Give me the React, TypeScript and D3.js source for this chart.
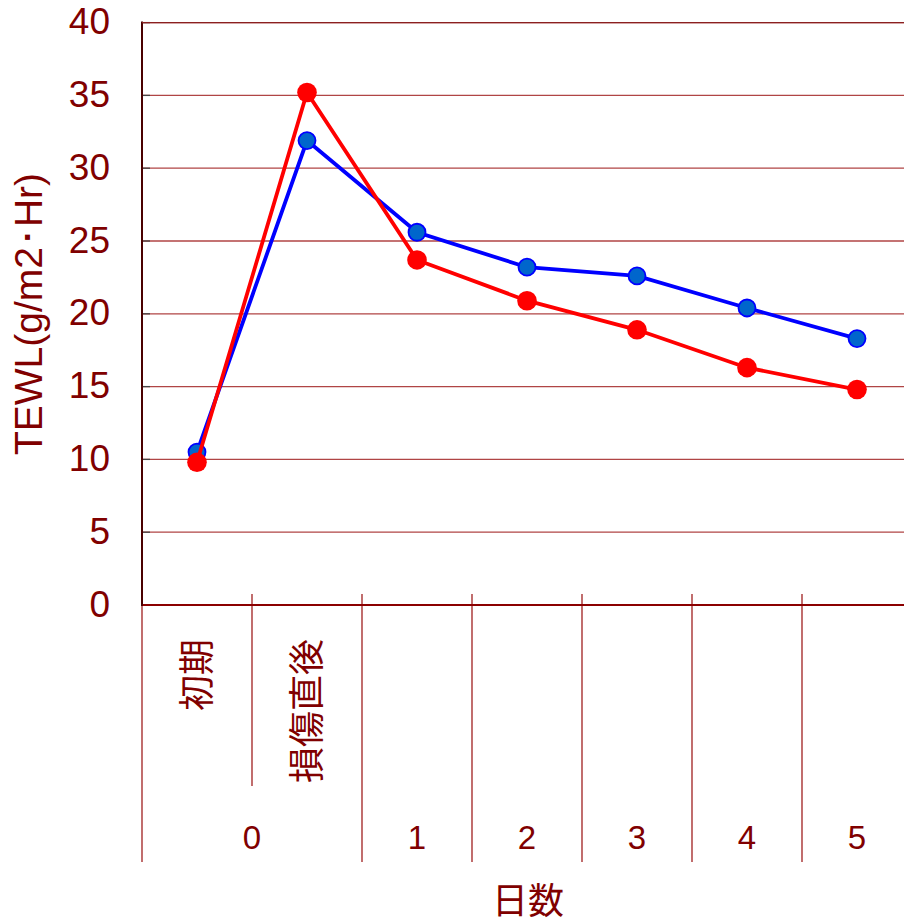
import React from "react";
import * as d3 from "d3";

const categories = ["初期", "損傷直後", "1", "2", "3", "4", "5"];
const subLabels = ["初期", "損傷直後", "", "", "", "", ""];
const dayLabels = ["0", "1", "2", "3", "4", "5"];
const daySpans = [2, 1, 1, 1, 1, 1];
const blueValues = [10.5, 31.9, 25.6, 23.2, 22.6, 20.4, 18.3];
const redValues = [9.8, 35.2, 23.7, 20.9, 18.9, 16.3, 14.8];
const yTicks = [0, 5, 10, 15, 20, 25, 30, 35, 40];
const yTitle = "TEWL(g/m2･Hr)";
const xTitle = "日数";

const W = 904;
const H = 923;
const left = 142;
const top = 22.6;
const bottom = 605;
const bandW = 110;

const textColor = "#800000";
const sans = "'Liberation Sans', Arial, sans-serif";
const cjk = "'Noto Sans CJK JP', 'Noto Sans', sans-serif";

export default function App() {
  const x = d3
    .scaleBand<string>()
    .domain(categories)
    .range([left, left + bandW * categories.length])
    .padding(0);
  const y = d3.scaleLinear().domain([0, 40]).range([bottom, top]);
  const cx = (c: string) => (x(c) as number) + x.bandwidth() / 2;

  const line = d3
    .line<number>()
    .x((_, i) => cx(categories[i]))
    .y((d) => y(d));

  const groupStarts: number[] = [];
  let acc = 0;
  daySpans.forEach((s) => {
    groupStarts.push(acc);
    acc += s;
  });

  return (
    <svg
      width={W}
      height={H}
      style={{ position: "absolute", left: 0, top: 0, background: "#fff" }}
    >
      {/* gridlines */}
      {yTicks
        .filter((t) => t > 0)
        .map((t) => (
          <line
            key={"g" + t}
            x1={left}
            x2={W}
            y1={y(t)}
            y2={y(t)}
            stroke="#b04545"
            strokeWidth={1.3}
          />
        ))}
      {/* y tick marks */}
      {yTicks.map((t) => (
        <line
          key={"t" + t}
          x1={left}
          x2={left + 8}
          y1={y(t)}
          y2={y(t)}
          stroke="#444"
          strokeWidth={1.3}
        />
      ))}
      {/* y tick labels */}
      {yTicks.map((t) => (
        <text
          key={"l" + t}
          x={110}
          y={y(t) + 11.5}
          textAnchor="end"
          fontFamily={sans}
          fontSize={37}
          fill={textColor}
        >
          {t}
        </text>
      ))}
      {/* y title */}
      <text
        transform={`translate(42, 314) rotate(-90)`}
        textAnchor="middle"
        fontFamily={sans}
        fontSize={39}
        fill={textColor}
      >
        {yTitle}
      </text>

      {/* category separators */}
      {categories.map((c, i) => {
        const xb = x(c) as number;
        const isGroupStart = groupStarts.includes(i);
        if (i === 0) {
          return (
            <line key={"s" + i} x1={xb} x2={xb} y1={bottom} y2={862} stroke="#a02020" strokeWidth={1.3} />
          );
        }
        return (
          <line
            key={"s" + i}
            x1={xb}
            x2={xb}
            y1={594}
            y2={isGroupStart ? 862 : 786}
            stroke="#a02020"
            strokeWidth={1.3}
          />
        );
      })}

      {/* sub labels (rotated) */}
      {subLabels.map((s, i) =>
        s ? (
          <text
            key={"sub" + i}
            transform={`translate(${cx(categories[i]) + 13}, 639) rotate(-90)`}
            textAnchor="end"
            fontFamily={cjk}
            fontSize={36}
            fill={textColor}
          >
            {s}
          </text>
        ) : null
      )}

      {/* day labels */}
      {dayLabels.map((d, gi) => {
        const start = x(categories[groupStarts[gi]]) as number;
        const end = start + daySpans[gi] * x.bandwidth();
        return (
          <text
            key={"d" + gi}
            x={(start + end) / 2}
            y={849}
            textAnchor="middle"
            fontFamily={sans}
            fontSize={33}
            fill={textColor}
          >
            {d}
          </text>
        );
      })}

      {/* x title */}
      <text
        x={528}
        y={914}
        textAnchor="middle"
        fontFamily={cjk}
        fontSize={36}
        fill={textColor}
      >
        {xTitle}
      </text>

      {/* axes */}
      <line x1={left} x2={W} y1={bottom} y2={bottom} stroke="#8b0000" strokeWidth={2.2} />
      <line x1={left} x2={left} y1={top - 1} y2={bottom + 1} stroke="#4a0000" strokeWidth={2} />
      <line x1={left} x2={W} y1={top} y2={top} stroke="#8b2020" strokeWidth={1.3} />

      {/* blue series */}
      <path d={line(blueValues) || ""} fill="none" stroke="#0000ff" strokeWidth={3.8} />
      {blueValues.map((v, i) => (
        <circle
          key={"b" + i}
          cx={cx(categories[i])}
          cy={y(v)}
          r={8.5}
          fill="#0066cc"
          stroke="#0000ff"
          strokeWidth={1.8}
        />
      ))}
      {/* red series */}
      <path d={line(redValues) || ""} fill="none" stroke="#ff0000" strokeWidth={3.8} />
      {redValues.map((v, i) => (
        <circle key={"r" + i} cx={cx(categories[i])} cy={y(v)} r={9.8} fill="#ff0000" />
      ))}
    </svg>
  );
}
